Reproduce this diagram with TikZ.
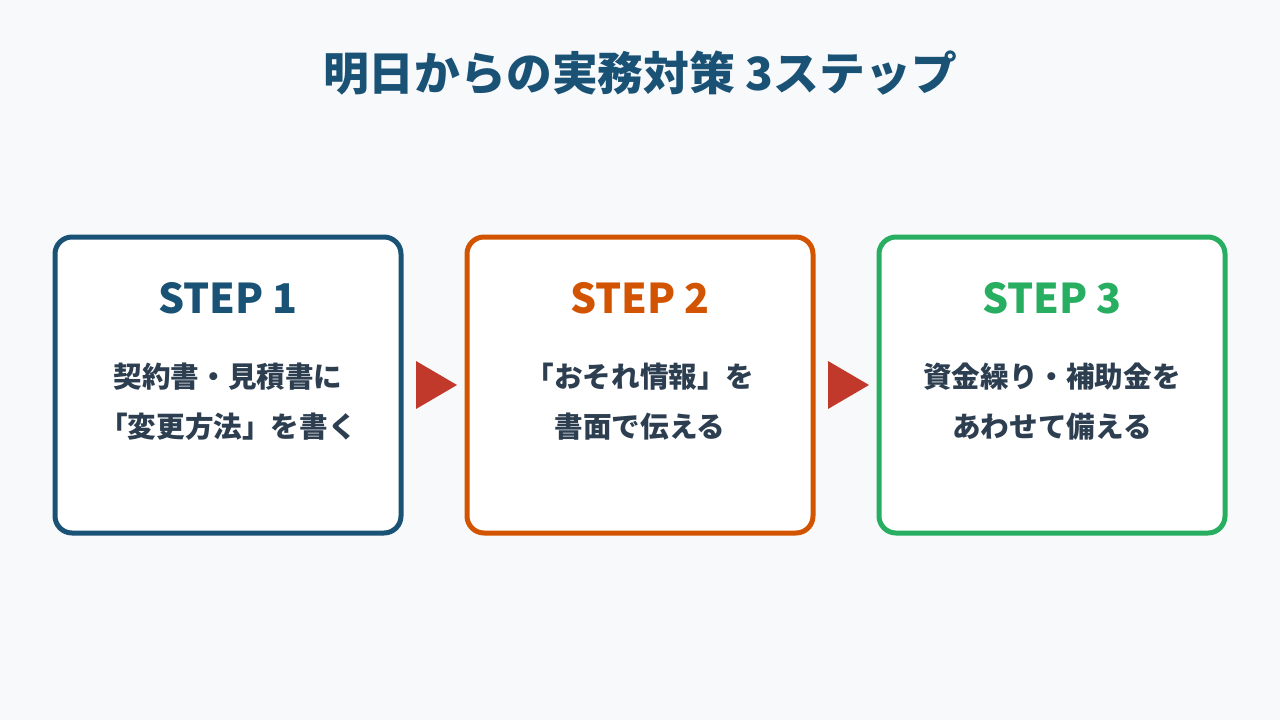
\documentclass[tikz,border=0pt]{standalone}
\usepackage{fontspec}
\setmainfont{Noto Sans CJK JP}
\definecolor{bgcol}{HTML}{F7F9FB}
\definecolor{navy}{HTML}{1A5276}
\definecolor{burnt}{HTML}{D35400}
\definecolor{leaf}{HTML}{27AE60}
\definecolor{inkcol}{HTML}{2C3E50}
\definecolor{arrowred}{HTML}{C0392B}
\tikzset{
  stepbox/.style={draw, line width=5pt, rounded corners=17pt, fill=white,
    minimum width=346pt, minimum height=296pt, inner sep=0pt},
  steplabel/.style={font=\fontsize{41}{44}\selectfont\bfseries},
  stepbody/.style={font=\fontsize{28.6}{50}\selectfont\bfseries, text=inkcol,
    align=center},
  flowtip/.style={fill=arrowred, draw=none}
}
\begin{document}
\begin{tikzpicture}[x=1pt,y=-1pt]
  \fill[bgcol] (0,0) rectangle (1280,720);
  \useasboundingbox (0,0) rectangle (1280,720);

  \node[font=\fontsize{45.8}{50}\selectfont\bfseries, text=navy] (title) at (640,73)
    {明日からの実務対策 3ステップ};

  % three step cards
  \node[stepbox, draw=navy]  (box1) at (228,385) {};
  \node[stepbox, draw=burnt] (box2) at (640,385) {};
  \node[stepbox, draw=leaf]  (box3) at (1052,385) {};

  \node[steplabel, text=navy]  (s1) at (228,298) {STEP 1};
  \node[steplabel, text=burnt] (s2) at (640,298) {STEP 2};
  \node[steplabel, text=leaf]  (s3) at (1052,298) {STEP 3};

  \node[stepbody] (b1) at (228,402) {契約書・見積書に\\「変更方法」を書く};
  \node[stepbody] (b2) at (640,402) {「おそれ情報」を\\書面で伝える};
  \node[stepbody] (b3) at (1052,402) {資金繰り・補助金を\\あわせて備える};

  % arrows between cards
  \fill[flowtip] (416,361) -- (457,385) -- (416,409) -- cycle;
  \fill[flowtip] (828,361) -- (869,385) -- (828,409) -- cycle;
\end{tikzpicture}
\end{document}
